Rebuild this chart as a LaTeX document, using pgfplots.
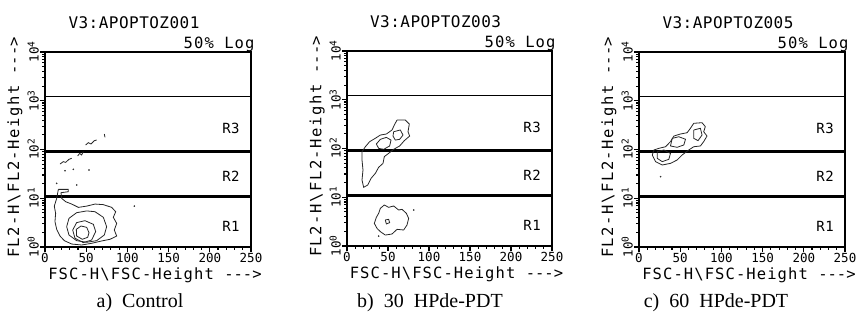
\documentclass[border=0pt]{standalone}
\usepackage{fontspec}
\setmainfont{Liberation Serif}
\newfontfamily\monoT[LetterSpace=3]{DejaVu Sans Mono}
\newfontfamily\monoL[LetterSpace=7]{DejaVu Sans Mono}
\newfontfamily\monoY[LetterSpace=10]{DejaVu Sans Mono}
\newfontfamily\monoK[LetterSpace=0]{DejaVu Sans Mono}
\newfontfamily\monoR[LetterSpace=4]{DejaVu Sans Mono}
\usepackage{pgfplots}
\pgfplotsset{compat=1.18}

\newcommand\ftitle{\monoT\fontsize{16bp}{18bp}\selectfont}
\newcommand\flab{\monoL\fontsize{15.5bp}{17bp}\selectfont}
\newcommand\fylab{\monoY\fontsize{15.5bp}{17bp}\selectfont}
\newcommand\ftick{\monoK\fontsize{12.5bp}{14bp}\selectfont}
\newcommand\freg{\monoR\fontsize{14bp}{16bp}\selectfont}
\newcommand\expo[1]{\raisebox{4bp}{\fontsize{9.5bp}{10bp}\selectfont #1}}
\newcommand\arr{-\kern0pt-\kern0pt-\kern0pt>}

% y axis: log10 of FL2-Height (decades 10^0 ... 10^4)
\pgfplotsset{
 fcmaxis/.style={
  scale only axis, height=195bp,
  xmin=0, xmax=250, ymin=0, ymax=4,
  xtick={0,50,100,150,200,250},
  xticklabels={0,50,100,150,200,250},
  minor xtick={10,20,30,40,60,70,80,90,110,120,130,140,160,170,180,190,210,220,230,240},
  ytick={0,1,2,3,4},
  yticklabels={10\expo{0},10\expo{1},10\expo{2},10\expo{3},10\expo{4}},
  minor ytick={0.301,0.477,0.602,0.699,0.778,0.845,0.903,0.954,
               1.301,1.477,1.602,1.699,1.778,1.845,1.903,1.954,
               2.301,2.477,2.602,2.699,2.778,2.845,2.903,2.954,
               3.301,3.477,3.602,3.699,3.778,3.845,3.903,3.954},
  tick align=outside, xtick pos=left, ytick pos=left,
  major tick length=5bp, minor tick length=3bp,
  tick style={black, line width=1.1bp},
  axis line style={line width=1.5bp},
  xticklabel style={font=\ftick, inner sep=1bp},
  yticklabel style={font=\ftick, rotate=90, anchor=south, inner sep=1bp},
  clip=false,
 },
 cline/.style={line width=0.8bp, black!85, mark=none},
 cdot/.style={only marks, mark=*, mark size=0.6bp, black!80},
 rthick/.style={black, line width=3bp, mark=none},
 rthin/.style={black, line width=1.2bp, mark=none},
}

\newcommand\regions{%
  \addplot[rthick] coordinates {(0,1.029) (250,1.029)};
  \addplot[rthick] coordinates {(0,1.968) (250,1.968)};
  \addplot[rthin] coordinates {(0,3.079) (250,3.079)};
  \node[font=\freg] at (axis cs:225.7,2.442) {R3};
  \node[font=\freg] at (axis cs:225.7,1.456) {R2};
  \node[font=\freg] at (axis cs:225.7,0.431) {R1};
  \node[anchor=base east, font=\flab] at (rel axis cs:1.034,1.0205) {50\% Log};
  \node[anchor=base, font=\flab] at (rel axis cs:0.534,-0.166) {FSC-H\textbackslash FSC-Height \arr};
  \node[rotate=90, font=\fylab] at (rel axis cs:-0.146,0.51) {FL2-H\textbackslash FL2-Height \arr};
}

\begin{document}
\begin{tikzpicture}
\useasboundingbox (0,0) rectangle (857bp,324bp);

% ---------------- Panel a ----------------
\begin{axis}[fcmaxis, width=206bp, at={(45bp,77bp)}, anchor=south west]
\regions
\node[anchor=base, font=\ftitle] at (rel axis cs:0.432,1.123) {V3:APOPTOZ001};
\addplot[cline] coordinates {
(16.2,1.182) (28.3,1.182) (28.3,1.134) (19.4,1.114) (20.2,0.998) (25.1,0.929) (32.4,0.881)
(40.5,0.813) (50.6,0.839) (60.7,0.881) (70.8,0.869) (80.9,0.813) (85.8,0.724) (82.9,0.609)
(87.0,0.484) (84.1,0.348) (87.0,0.225) (78.9,0.158) (68.8,0.124) (56.6,0.076) (44.5,0.041)
(32.4,0.061) (23.5,0.130) (18.2,0.225) (14.2,0.362) (12.1,0.520) (12.9,0.690) (11.3,0.839)
(14.2,0.998) (16.2,1.182)};
\addplot[cline] coordinates {
(74.8,0.417) (70.8,0.609) (60.7,0.724) (50.6,0.740) (38.4,0.704) (29.1,0.588) (26.3,0.417)
(29.1,0.246) (38.4,0.130) (50.6,0.097) (62.7,0.130) (72.0,0.246) (74.8,0.417)};
\addplot[cline] coordinates {
(61.5,0.316) (58.7,0.465) (48.5,0.540) (38.4,0.500) (33.6,0.348) (36.4,0.179) (46.5,0.090)
(56.6,0.143) (61.5,0.316)};
\addplot[cline] coordinates {
(53.4,0.294) (50.6,0.403) (43.7,0.431) (38.0,0.362) (38.4,0.225) (45.3,0.158) (51.8,0.199)
(53.4,0.294)};
\addplot[cline] coordinates {(18.2,1.702) (22.2,1.751) (25.1,1.736) (29.1,1.799) (32.4,1.819)};
\addplot[cline] coordinates {(39.6,1.867) (42.1,1.921) (44.5,1.887) (46.5,1.956)};
\addplot[cline] coordinates {(49.3,2.092) (52.6,2.140) (55.8,2.113) (59.9,2.181) (62.7,2.195)};
\addplot[cline] coordinates {(72.0,2.318) (72.8,2.250)};
\addplot[cdot] coordinates {(14.2,1.305) (38.4,1.272) (34.4,1.593) (53.4,1.580) (108.4,0.839) (24.3,1.566)};
\end{axis}

% ---------------- Panel b ----------------
\begin{axis}[fcmaxis, width=205bp, at={(347bp,78bp)}, anchor=south west]
\regions
\node[anchor=base, font=\ftitle] at (rel axis cs:0.432,1.123) {V3:APOPTOZ003};
\addplot[cline] coordinates {
(61.0,2.584) (71.1,2.584) (76.0,2.502) (74.4,2.344) (76.4,2.255) (69.9,2.161) (64.2,2.052)
(56.9,1.983) (50.8,1.901) (45.5,1.833) (43.9,1.695) (38.6,1.614) (34.6,1.491) (29.3,1.387)
(25.2,1.250) (20.3,1.204) (18.3,1.354) (19.5,1.559) (18.3,1.764) (18.3,1.935) (22.4,2.037)
(27.6,2.140) (34.6,2.210) (40.7,2.276) (48.0,2.297) (54.9,2.380) (57.7,2.481) (61.0,2.584)};
\addplot[cline] coordinates {
(40.7,2.188) (48.0,2.228) (53.7,2.173) (52.0,2.052) (44.7,1.983) (38.6,2.003) (35.8,2.093) (40.7,2.188)};
\addplot[cline] coordinates {
(56.9,2.344) (65.0,2.380) (68.3,2.276) (64.2,2.188) (58.9,2.173) (56.1,2.255) (56.9,2.344)};
\addplot[cline] coordinates {
(40.7,0.773) (45.5,0.841) (50.8,0.793) (56.9,0.821) (63.0,0.738) (67.1,0.752) (72.4,0.670)
(75.2,0.567) (73.2,0.431) (69.1,0.328) (61.0,0.342) (54.9,0.246) (46.7,0.225) (40.7,0.294)
(36.6,0.362) (33.3,0.465) (35.8,0.588) (38.6,0.670) (40.7,0.773)};
\addplot[cline] coordinates {(46.7,0.534) (50.8,0.547) (52.0,0.479) (48.0,0.452) (46.7,0.534)};
\addplot[cdot] coordinates {(81.3,0.738) (38.6,0.204)};
\end{axis}

% ---------------- Panel c ----------------
\begin{axis}[fcmaxis, width=206bp, at={(639bp,77bp)}, anchor=south west]
\regions
\node[anchor=base, font=\ftitle] at (rel axis cs:0.432,1.123) {V3:APOPTOZ005};
\addplot[cline] coordinates {
(66.4,2.537) (76.5,2.550) (80.5,2.468) (78.5,2.365) (82.5,2.276) (78.5,2.161) (74.5,2.072)
(66.4,2.057) (60.4,1.990) (52.3,1.887) (46.3,1.785) (38.2,1.716) (28.2,1.682) (20.1,1.751)
(16.1,1.887) (18.1,1.990) (24.2,2.024) (32.2,2.057) (38.2,2.161) (42.3,2.276) (50.3,2.318)
(58.4,2.344) (62.4,2.435) (66.4,2.537)};
\addplot[cline] coordinates {
(40.3,2.228) (48.3,2.262) (56.4,2.210) (54.4,2.093) (46.3,2.045) (38.2,2.072) (40.3,2.228)};
\addplot[cline] coordinates {
(22.1,1.956) (30.2,1.990) (38.2,1.921) (36.2,1.799) (28.2,1.751) (22.1,1.819) (22.1,1.956)};
\addplot[cline] coordinates {
(66.4,2.400) (74.5,2.435) (76.5,2.297) (71.7,2.182) (66.4,2.228) (66.4,2.400)};
\addplot[cdot] coordinates {(26.2,1.442)};
\end{axis}

% captions
\node[anchor=base, font=\fontsize{20bp}{23bp}\selectfont] at (140bp,17bp) {a)~~Control};
\node[anchor=base, font=\fontsize{20bp}{23bp}\selectfont] at (430bp,17bp) {b)~~30~~HPde-PDT};
\node[anchor=base, font=\fontsize{20bp}{23bp}\selectfont] at (716bp,17bp) {c)~~60~~HPde-PDT};
\end{tikzpicture}
\end{document}
